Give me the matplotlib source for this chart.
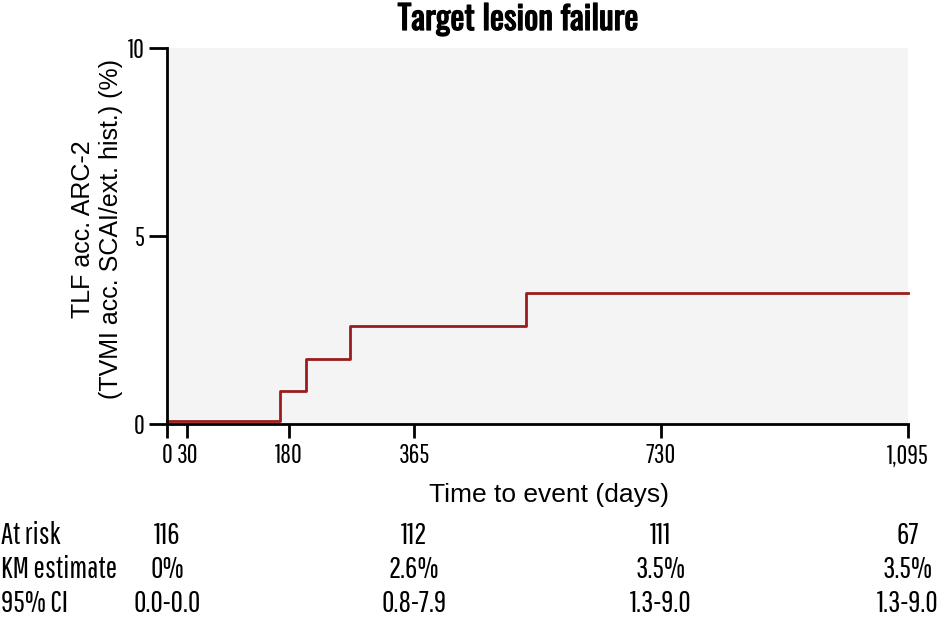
import matplotlib
matplotlib.use("Agg")
import matplotlib.pyplot as plt
import matplotlib.patheffects as pe
from matplotlib.transforms import blended_transform_factory

# Kaplan-Meier step curve (days, cumulative TLF %)
event_days = [0, 167, 205, 271, 531, 1095]
event_pct = [0.07, 0.87, 1.74, 2.61, 3.48, 3.48]

xticks = [0, 30, 180, 365, 730, 1095]
xtick_labels = ["0", "30", "180", "365", "730", "1,095"]
yticks = [0, 5, 10]

table_days = [0, 365, 730, 1095]
at_risk = ["116", "112", "111", "67"]
km_estimate = ["0%", "2.6%", "3.5%", "3.5%"]
ci_95 = ["0.0-0.0", "0.8-7.9", "1.3-9.0", "1.3-9.0"]
row_labels = ["At risk", "KM estimate", "95% CI"]

condensed = ['Pathway Gothic One', 'Oswald', 'DejaVu Sans']
plain = ['Liberation Sans', 'DejaVu Sans']
plt.rcParams['font.family'] = condensed

W, H = 945, 623
fig = plt.figure(figsize=(W / 100, H / 100), dpi=100)
ax = fig.add_axes([167 / W, 1 - 424 / H, (908 - 167) / W, (424 - 48) / H])
ax.set_facecolor('#f4f4f4')

ax.step(event_days, event_pct, where='post', color='#9b1c1c', lw=2, clip_on=False, zorder=3)

ax.set_xlim(0, 1095)
ax.set_ylim(0, 10)
ax.set_xticks(xticks)
ax.set_xticklabels(xtick_labels)
ax.set_yticks(yticks)
for s in ['top', 'right']:
    ax.spines[s].set_visible(False)
for s in ['left', 'bottom']:
    ax.spines[s].set_linewidth(2)
    ax.spines[s].set_zorder(4)
ax.tick_params(axis='x', length=10, width=2, labelsize=19, pad=4)
ax.tick_params(axis='y', length=13, width=2, labelsize=19, pad=3)

fig.text(97 / W, 1 - 229 / H, "TLF acc. ARC-2\n(TVMI acc. SCAI/ext. hist.) (%)",
         rotation=90, ha='center', va='center', family=plain, fontsize=18, linespacing=1.25)

fig.text(518 / W, 1 - 19 / H, "Target lesion failure", ha='center', va='center',
         family=['Oswald', 'DejaVu Sans'], fontsize=24,
         path_effects=[pe.withStroke(linewidth=0.9, foreground='black')])
fig.text(549 / W, 1 - 495 / H, "Time to event (days)", ha='center', va='center',
         family=plain, fontsize=19)

trans = blended_transform_factory(ax.transData, fig.transFigure)
row_y = [536, 569, 603]
for label, y, vals in zip(row_labels, row_y, [at_risk, km_estimate, ci_95]):
    fig.text(1 / W, 1 - y / H, label, ha='left', va='center', fontsize=22)
    for d, v in zip(table_days, vals):
        ax.text(d, 1 - y / H, v, transform=trans, ha='center', va='center', fontsize=22)

fig.savefig("out.png", dpi=100)
